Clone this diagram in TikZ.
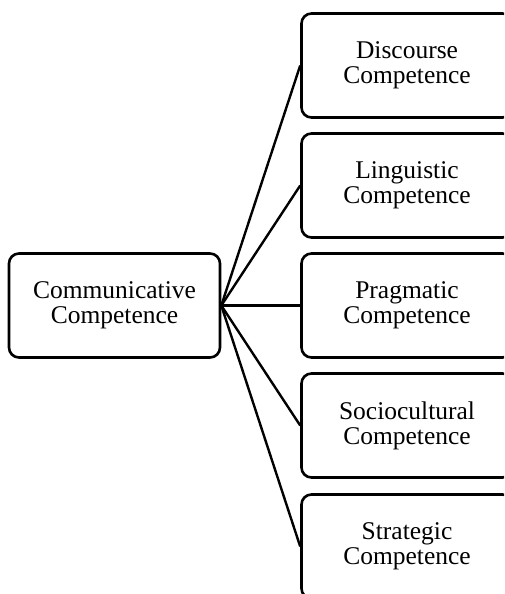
\documentclass[tikz,border=0pt]{standalone}
\usepackage{fontspec}
\setmainfont{Liberation Serif}
\begin{document}
\begin{tikzpicture}[x=1pt,y=-1pt,
  cbox/.style={draw=black, line width=2.6pt, rounded corners=10pt, minimum width=211pt, minimum height=104pt, align=center, inner sep=0pt, font=\fontsize{25.5}{25}\selectfont, anchor=center},
  conn/.style={line width=2.4pt}]
\useasboundingbox (0,0) rectangle (504,594);
\clip (0,0) rectangle (504,594);
\node[cbox] (cc) at (114.5,305.5) {Communicative\\Competence};
\node[cbox] (d) at (407,65.5) {Discourse\\Competence};
\node[cbox] (l) at (407,185.5) {Linguistic\\Competence};
\node[cbox] (p) at (407,305.5) {Pragmatic\\Competence};
\node[cbox] (s) at (407,425.5) {Sociocultural\\Competence};
\node[cbox] (st) at (407,546.5) {Strategic\\Competence};
\foreach \t in {d,l,p,s,st} \draw[conn] (cc.east) -- (\t.west);
\end{tikzpicture}
\end{document}
